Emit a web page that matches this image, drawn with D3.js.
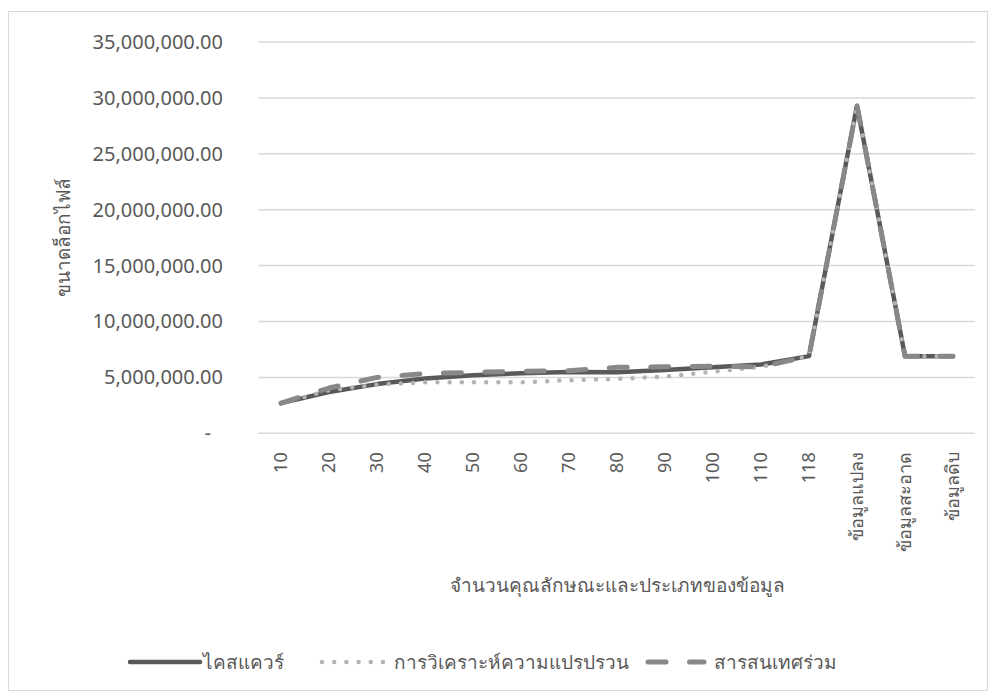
<!DOCTYPE html>
<html>
<head>
<meta charset="utf-8">
<script src="https://cdn.jsdelivr.net/npm/d3@7"></script>
<style>
  html, body { margin: 0; padding: 0; background: #fff; }
  svg { display: block; font-family: "Noto Sans", "DejaVu Sans", sans-serif; }
</style>
</head>
<body>
<svg id="chart" width="995" height="698"></svg>
<script>
// Categories: number of features, then the three data variants
const categories = ["10", "20", "30", "40", "50", "60", "70", "80", "90", "100", "110", "118",
  "ข้อมูลแปลง", "ข้อมูลสะอาด", "ข้อมูลดิบ"];

// Log file size for each feature-selection method
const chiSquare   = [2700000, 3700000, 4400000, 4900000, 5200000, 5370000, 5480000, 5450000, 5660000, 5900000, 6150000, 6900000, 29300000, 6900000, 6900000];
const anova       = [2650000, 3850000, 4350000, 4560000, 4560000, 4560000, 4750000, 4860000, 5070000, 5500000, 5950000, 6900000, 29300000, 6900000, 6900000];
const mutualInfo  = [2700000, 4050000, 5000000, 5350000, 5450000, 5550000, 5600000, 5900000, 5950000, 6000000, 5950000, 6900000, 29300000, 6900000, 6900000];

const seriesNames = ["ไคสแควร์", "การวิเคราะห์ความแปรปรวน", "สารสนเทศร่วม"];
const yTicks = [0, 5000000, 10000000, 15000000, 20000000, 25000000, 30000000, 35000000];
const yTitle = "ขนาดล็อกไฟล์";
const xTitle = "จำนวนคุณลักษณะและประเภทของข้อมูล";

const svg = d3.select("#chart");
const plot = { left: 257, right: 977, top: 42, bottom: 433.3 };

// Chart area border
svg.append("rect")
  .attr("x", 8.5).attr("y", 11.5)
  .attr("width", 979).attr("height", 679)
  .attr("fill", "#fff").attr("stroke", "#d9d9d9").attr("stroke-width", 1);

const x = d3.scaleBand().domain(categories).range([plot.left, plot.right]);
const y = d3.scaleLinear().domain([0, 35000000]).range([plot.bottom, plot.top]);
const cx = d => x(d) + x.bandwidth() / 2;

// Horizontal gridlines
svg.append("g").selectAll("line")
  .data(yTicks).join("line")
  .attr("x1", plot.left + 1).attr("x2", plot.right - 2)
  .attr("y1", d => y(d)).attr("y2", d => y(d))
  .attr("stroke", "#d9d9d9").attr("stroke-width", 1.5);

// Y axis labels
const fmt = d3.format(",.2f");
const yAxis = d3.axisLeft(y).tickValues(yTicks).tickSize(0).tickPadding(0)
  .tickFormat(d => d === 0 ? "-" : fmt(d));
const gy = svg.append("g").attr("transform", "translate(223,0)").call(yAxis);
gy.select(".domain").remove();
gy.selectAll("text")
  .attr("font-family", "\"Noto Sans\", sans-serif")
  .attr("font-size", 20).attr("fill", "#595959")
  .attr("dx", d => d === 0 ? -12 : 0);

// X axis labels (rotated)
const xAxis = d3.axisBottom(x).tickSize(0).tickPadding(0);
const gx = svg.append("g").attr("transform", `translate(0,${plot.bottom})`).call(xAxis);
gx.select(".domain").remove();
gx.selectAll("text")
  .attr("font-family", "\"Noto Sans\", sans-serif")
  .attr("font-size", 18).attr("fill", "#595959")
  .attr("text-anchor", "end")
  .attr("transform", "rotate(-90)")
  .attr("x", -19).attr("y", 0).attr("dy", "0.36em");

// Axis titles
svg.append("text")
  .attr("transform", `translate(70,${(plot.top + plot.bottom) / 2}) rotate(-90)`)
  .attr("text-anchor", "middle")
  .attr("font-size", 19).attr("fill", "#595959")
  .text(yTitle);

svg.append("text")
  .attr("x", (plot.left + plot.right) / 2).attr("y", 592)
  .attr("text-anchor", "middle")
  .attr("font-size", 19).attr("fill", "#595959")
  .text(xTitle);

// Series lines
const styles = [
  { color: "#595959", width: 4.5, dash: null },
  { color: "#b3b3b3", width: 4.5, dash: "0 12.2" },
  { color: "#888888", width: 5, dash: "18 23.5" }
];
const seriesData = [chiSquare, anova, mutualInfo];
const line = d3.line().x((d, i) => cx(categories[i])).y(d => y(d));

seriesData.forEach((vals, k) => {
  svg.append("path")
    .datum(vals)
    .attr("d", line)
    .attr("fill", "none")
    .attr("stroke", styles[k].color)
    .attr("stroke-width", styles[k].width)
    .attr("stroke-linecap", "round")
    .attr("stroke-linejoin", "round")
    .attr("stroke-dasharray", styles[k].dash);
});

// Legend
const legendY = 662;
const legendItems = [
  { x1: 130, x2: 200, tx: 203 },
  { x1: 322, x2: 386, tx: 394 },
  { x1: 648, x2: 704, tx: 714 }
];
const lg = svg.append("g");
legendItems.forEach((it, k) => {
  lg.append("path")
    .attr("d", `M${it.x1},${legendY}H${it.x2}`)
    .attr("fill", "none")
    .attr("stroke", styles[k].color)
    .attr("stroke-width", styles[k].width)
    .attr("stroke-linecap", "round")
    .attr("stroke-dasharray", styles[k].dash);
  lg.append("text")
    .attr("x", it.tx).attr("y", legendY).attr("dy", "0.35em")
    .attr("font-size", 19).attr("fill", "#595959")
    .text(seriesNames[k]);
});
</script>
</body>
</html>
